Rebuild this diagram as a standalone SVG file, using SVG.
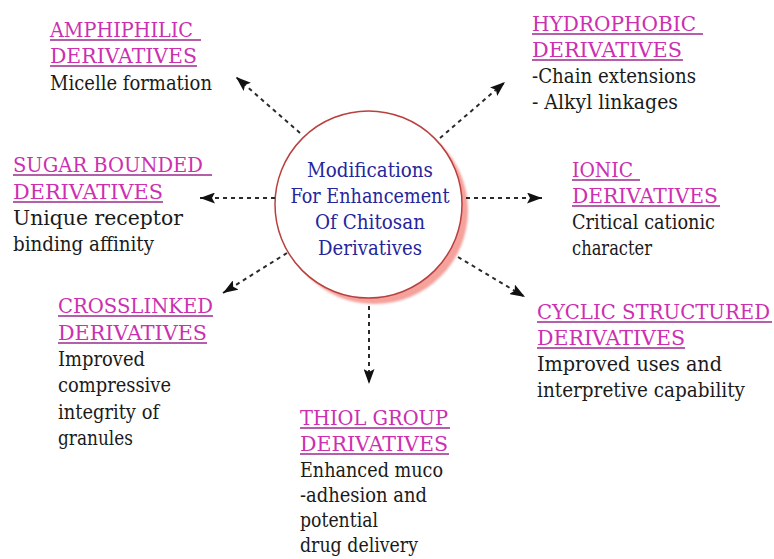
<svg xmlns="http://www.w3.org/2000/svg" width="774" height="559" viewBox="0 0 774 559">
  <defs>
    <marker id="arrow" viewBox="0 0 15 11" markerWidth="15" markerHeight="11" refX="15" refY="5.5" orient="auto" markerUnits="userSpaceOnUse">
      <path d="M0,0 L15,5.5 L0,11 L3,5.5 Z" fill="#111"/>
    </marker>
    <filter id="soft" x="-10%" y="-10%" width="120%" height="120%">
      <feGaussianBlur stdDeviation="1"/>
    </filter>
  </defs>
  <style>
    text { font-family: "DejaVu Serif", "Liberation Serif", serif; font-size: 20.5px; }
    .head { fill: #cc2fb0; }
    .uline { stroke: #9a2a8c; stroke-width: 1.5; }
    .body { fill: #1a1a1a; }
    .core { fill: #25259c; text-anchor: middle; }
    .link { stroke: #2a2a2a; stroke-width: 2; stroke-dasharray: 4 4; fill: none; marker-end: url(#arrow); }
  </style>
  <rect width="774" height="559" fill="#ffffff"/>

  <!-- central hub -->
  <g id="hub">
    <circle cx="374.5" cy="210.5" r="93.5" fill="#f5a19c" filter="url(#soft)"/>
    <circle cx="368.5" cy="204.5" r="93.5" fill="#ffffff" stroke="#b8403e" stroke-width="1.5"/>
    <text class="core" x="370" y="177" textLength="126" lengthAdjust="spacingAndGlyphs">Modifications</text>
    <text class="core" x="370" y="203" textLength="159" lengthAdjust="spacingAndGlyphs">For Enhancement</text>
    <text class="core" x="370" y="229" textLength="110" lengthAdjust="spacingAndGlyphs">Of Chitosan</text>
    <text class="core" x="370" y="255" textLength="104" lengthAdjust="spacingAndGlyphs">Derivatives</text>
  </g>

  <!-- dashed arrows from the hub -->
  <g id="connectors">
    <line class="link" x1="300" y1="133" x2="236" y2="77"/>
    <line class="link" x1="440" y1="138" x2="505" y2="82"/>
    <line class="link" x1="275" y1="198" x2="200" y2="198"/>
    <line class="link" x1="466" y1="198" x2="542" y2="198"/>
    <line class="link" x1="287" y1="253" x2="223" y2="293"/>
    <line class="link" x1="458" y1="257" x2="525" y2="297"/>
    <line class="link" x1="369" y1="306" x2="369" y2="384"/>
  </g>

  <g id="amphiphilic">
    <text class="head" x="50" y="37" textLength="143" lengthAdjust="spacingAndGlyphs">AMPHIPHILIC</text>
    <line class="uline" x1="50" y1="40" x2="201" y2="40"/>
    <text class="head" x="50" y="63" textLength="147" lengthAdjust="spacingAndGlyphs">DERIVATIVES</text>
    <line class="uline" x1="50" y1="66" x2="197" y2="66"/>
    <text class="body" x="50" y="90" textLength="162" lengthAdjust="spacingAndGlyphs">Micelle formation</text>
  </g>

  <g id="hydrophobic">
    <text class="head" x="532" y="31" textLength="164" lengthAdjust="spacingAndGlyphs">HYDROPHOBIC</text>
    <line class="uline" x1="532" y1="34" x2="703" y2="34"/>
    <text class="head" x="532" y="57" textLength="150" lengthAdjust="spacingAndGlyphs">DERIVATIVES</text>
    <line class="uline" x1="532" y1="60" x2="683" y2="60"/>
    <text class="body" x="532" y="83" textLength="164" lengthAdjust="spacingAndGlyphs">-Chain extensions</text>
    <text class="body" x="532" y="109" textLength="146" lengthAdjust="spacingAndGlyphs">- Alkyl linkages</text>
  </g>

  <g id="sugar-bounded">
    <text class="head" x="13" y="172" textLength="190" lengthAdjust="spacingAndGlyphs">SUGAR BOUNDED</text>
    <line class="uline" x1="13" y1="175" x2="212" y2="175"/>
    <text class="head" x="13" y="199" textLength="150" lengthAdjust="spacingAndGlyphs">DERIVATIVES</text>
    <line class="uline" x1="13" y1="202" x2="163" y2="202"/>
    <text class="body" x="13" y="225" textLength="170" lengthAdjust="spacingAndGlyphs">Unique receptor</text>
    <text class="body" x="13" y="251" textLength="141" lengthAdjust="spacingAndGlyphs">binding affinity</text>
  </g>

  <g id="ionic">
    <text class="head" x="572" y="177" textLength="61" lengthAdjust="spacingAndGlyphs">IONIC</text>
    <line class="uline" x1="572" y1="180" x2="640" y2="180"/>
    <text class="head" x="572" y="203" textLength="146" lengthAdjust="spacingAndGlyphs">DERIVATIVES</text>
    <line class="uline" x1="572" y1="206" x2="720" y2="206"/>
    <text class="body" x="572" y="229" textLength="143" lengthAdjust="spacingAndGlyphs">Critical cationic</text>
    <text class="body" x="572" y="255" textLength="80" lengthAdjust="spacingAndGlyphs">character</text>
  </g>

  <g id="crosslinked">
    <text class="head" x="58" y="313" textLength="155" lengthAdjust="spacingAndGlyphs">CROSSLINKED</text>
    <line class="uline" x1="58" y1="316" x2="213" y2="316"/>
    <text class="head" x="58" y="340" textLength="149" lengthAdjust="spacingAndGlyphs">DERIVATIVES</text>
    <line class="uline" x1="58" y1="343" x2="207" y2="343"/>
    <text class="body" x="58" y="366" textLength="87" lengthAdjust="spacingAndGlyphs">Improved</text>
    <text class="body" x="58" y="392" textLength="113" lengthAdjust="spacingAndGlyphs">compressive</text>
    <text class="body" x="58" y="419" textLength="101" lengthAdjust="spacingAndGlyphs">integrity of</text>
    <text class="body" x="58" y="445" textLength="75" lengthAdjust="spacingAndGlyphs">granules</text>
  </g>

  <g id="thiol">
    <text class="head" x="300" y="425" textLength="148" lengthAdjust="spacingAndGlyphs">THIOL GROUP</text>
    <line class="uline" x1="300" y1="428" x2="450" y2="428"/>
    <text class="head" x="300" y="451" textLength="148" lengthAdjust="spacingAndGlyphs">DERIVATIVES</text>
    <line class="uline" x1="300" y1="454" x2="449" y2="454"/>
    <text class="body" x="300" y="477" textLength="143" lengthAdjust="spacingAndGlyphs">Enhanced muco</text>
    <text class="body" x="300" y="502" textLength="127" lengthAdjust="spacingAndGlyphs">-adhesion and</text>
    <text class="body" x="300" y="527" textLength="78" lengthAdjust="spacingAndGlyphs">potential</text>
    <text class="body" x="300" y="552" textLength="118" lengthAdjust="spacingAndGlyphs">drug delivery</text>
  </g>

  <g id="cyclic">
    <text class="head" x="537" y="319" style="font-size:19.5px" textLength="233" lengthAdjust="spacingAndGlyphs">CYCLIC STRUCTURED</text>
    <line class="uline" x1="537" y1="322" x2="772" y2="322"/>
    <text class="head" x="537" y="345" textLength="148" lengthAdjust="spacingAndGlyphs">DERIVATIVES</text>
    <line class="uline" x1="537" y1="348" x2="685" y2="348"/>
    <text class="body" x="537" y="371" textLength="185" lengthAdjust="spacingAndGlyphs">Improved uses and</text>
    <text class="body" x="537" y="397" textLength="208" lengthAdjust="spacingAndGlyphs">interpretive capability</text>
  </g>
</svg>
